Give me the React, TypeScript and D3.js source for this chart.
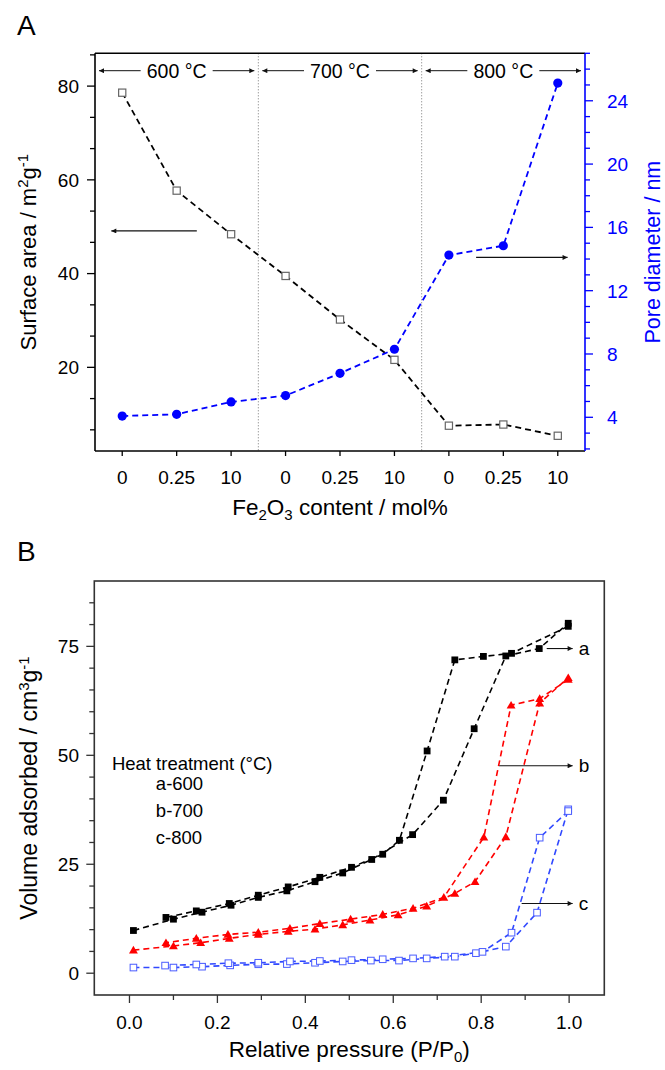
import React from 'react';
import * as d3 from 'd3';

const FONT = '"Liberation Sans", Arial, Helvetica, sans-serif';

// ---------- Panel A data ----------
const catLabels = ['0', '0.25', '10', '0', '0.25', '10', '0', '0.25', '10'];
const tempGroups = ['600 °C', '700 °C', '800 °C'];
const surfaceArea = [78.6, 57.7, 48.4, 39.5, 30.2, 21.6, 7.55, 7.8, 5.4];
const poreDiameter = [4.08, 4.19, 4.97, 5.37, 6.78, 8.3, 14.25, 14.84, 25.12];
const leftTicksA = [20, 40, 60, 80];
const rightTicksA = [4, 8, 12, 16, 20, 24];

// ---------- Panel B data (relative pressure, volume) ----------
const aAdsorption: [number, number][] = [
  [0.009, 9.8], [0.1, 12.4], [0.165, 14.0], [0.231, 15.6], [0.293, 17.4], [0.358, 18.9],
  [0.422, 21.0], [0.485, 23.0], [0.551, 26.1], [0.644, 31.8], [0.714, 39.7], [0.784, 56.1],
  [0.856, 72.8], [0.932, 74.5], [0.998, 80.3],
];
const aDesorption: [number, number][] = [
  [0.998, 79.6], [0.869, 73.4], [0.805, 72.7], [0.74, 71.9], [0.677, 51.0], [0.614, 30.5],
  [0.576, 27.3], [0.505, 24.3], [0.433, 22.0], [0.361, 19.8], [0.293, 17.9], [0.227, 16.0],
  [0.152, 14.3], [0.083, 12.8],
];
const bAdsorption: [number, number][] = [
  [0.009, 5.3], [0.1, 6.25], [0.162, 7.0], [0.227, 8.0], [0.293, 8.9], [0.361, 9.6],
  [0.422, 10.1], [0.485, 11.1], [0.547, 12.2], [0.611, 13.4], [0.676, 15.4], [0.74, 18.3],
  [0.786, 21.0], [0.856, 31.3], [0.933, 62.0], [0.998, 67.8],
];
const bDesorption: [number, number][] = [
  [0.998, 67.4], [0.933, 63.0], [0.868, 61.5], [0.806, 31.2], [0.715, 17.4], [0.645, 14.9],
  [0.576, 13.5], [0.503, 12.4], [0.433, 11.4], [0.365, 10.3], [0.293, 9.4], [0.224, 8.9],
  [0.152, 8.0], [0.083, 7.0],
];
const cAdsorption: [number, number][] = [
  [0.009, 1.3], [0.1, 1.3], [0.165, 1.5], [0.229, 1.8], [0.293, 2.05], [0.358, 2.1],
  [0.422, 2.4], [0.485, 2.7], [0.549, 2.9], [0.613, 2.9], [0.676, 3.4], [0.74, 3.8],
  [0.788, 4.6], [0.856, 6.1], [0.927, 13.9], [0.998, 37.6],
];
const cDesorption: [number, number][] = [
  [0.998, 37.2], [0.933, 31.1], [0.869, 9.3], [0.803, 4.9], [0.717, 3.8], [0.645, 3.4],
  [0.576, 3.2], [0.505, 3.0], [0.433, 2.8], [0.365, 2.7], [0.293, 2.4], [0.225, 2.3],
  [0.152, 2.0], [0.081, 1.75],
];
const legendLinesB = ['a-600', 'b-700', 'c-800'];
const curveLabelsB = ['a', 'b', 'c'];
const curveArrowStartB = [0.949, 0.841, 0.892];
const curveArrowLevelB = [74.5, 47.6, 16.0];
const yTicksB = [0, 25, 50, 75];
const xTicksB = [0, 0.2, 0.4, 0.6, 0.8, 1.0];

const BLUE = '#0000ff';
const BLUE_B = '#3048ff';
const RED = '#ff0000';

export default function App() {
  // ---------- scales panel A ----------
  const xA = d3.scaleLinear().domain([-0.5, 8.5]).range([95, 585]);
  const yAL = d3.scaleLinear().domain([2.15, 87]).range([451, 53.3]);
  const yAR = d3.scaleLinear().domain([1.87, 27]).range([451, 53.3]);
  const [aTop, aBot] = yAL.range().slice().reverse();
  const aLeft = xA.range()[0];
  const aRight = xA.range()[1];

  const lineSA = d3.line<number>().x((_, i) => xA(i)).y((d) => yAL(d));
  const linePD = d3.line<number>().x((_, i) => xA(i)).y((d) => yAR(d));

  const leftMinorA = d3.range(1, 14).map((k) => (k * 20) / 3);
  const rightMinorA = d3.range(2, 28);

  // ---------- scales panel B ----------
  const xB = d3.scaleLinear().domain([-0.08, 1.08]).range([94.3, 604.3]);
  const yB = d3.scaleLinear().domain([-5, 90]).range([995, 581]);
  const bLeft = 94.3, bRight = 604.3, bTop = 581, bBot = 995;
  const lineB = d3.line<[number, number]>().x((d) => xB(d[0])).y((d) => yB(d[1]));
  const yMinorB = d3.range(5, 90, 5).filter((v) => v % 25 !== 0);
  const xMinorB = d3.range(1, 11, 2).map((k) => k / 10);
  const tri = d3.symbol().type(d3.symbolTriangle).size(34)();

  const seriesB = [
    { ads: aAdsorption, des: aDesorption, color: '#000', kind: 'sq' },
    { ads: bAdsorption, des: bDesorption, color: RED, kind: 'tri' },
    { ads: cAdsorption, des: cDesorption, color: BLUE_B, kind: 'open' },
  ];

  const marker = (kind: string, color: string, p: [number, number], key: string) => {
    const cx = xB(p[0]);
    const cy = yB(p[1]);
    if (kind === 'sq') return <rect key={key} x={cx - 3.4} y={cy - 3.4} width={6.8} height={6.8} fill={color} />;
    if (kind === 'tri') return <path key={key} d={tri as string} transform={`translate(${cx},${cy + 0.8})`} fill={color} />;
    return <rect key={key} x={cx - 3.3} y={cy - 3.3} width={6.6} height={6.6} fill="#fff" stroke="#4a5cff" strokeWidth={1} />;
  };

  const groupCenters = tempGroups.map((_, g) => (xA(3 * g - 0.5) + xA(3 * g + 2.5)) / 2);
  const arrowY = 70.7;

  return (
    <div style={{ position: 'absolute', left: 0, top: 0 }}>
      <svg width={665} height={1070} fontFamily={FONT} style={{ display: 'block' }}>
        <defs>
          <marker id="ah" viewBox="0 0 10 10" refX="10" refY="5" markerWidth="7" markerHeight="5"
            markerUnits="userSpaceOnUse" orient="auto">
            <path d="M0,0 L10,5 L0,10 z" fill="#111" />
          </marker>
        </defs>
        <rect width={665} height={1070} fill="#fff" />

        {/* ================= Panel A ================= */}
        <text x={17} y={35} fontSize={28}>A</text>

        {/* dotted separators */}
        {[2.5, 5.5].map((v) => (
          <line key={v} x1={xA(v)} x2={xA(v)} y1={aTop} y2={aBot} stroke="#777" strokeWidth={1} strokeDasharray="1,2" />
        ))}

        {/* temperature headers */}
        {tempGroups.map((t, g) => {
          const c = groupCenters[g];
          const s = xA(3 * g - 0.5);
          const e = xA(3 * g + 2.5);
          return (
            <g key={t}>
              <text x={c} y={arrowY} dy="0.36em" fontSize={19.5} textAnchor="middle">{t}</text>
              <line x1={c - 36} x2={s + 4} y1={arrowY} y2={arrowY} stroke="#111" strokeWidth={1} markerEnd="url(#ah)" />
              <line x1={c + 36} x2={e - 4} y1={arrowY} y2={arrowY} stroke="#111" strokeWidth={1} markerEnd="url(#ah)" />
            </g>
          );
        })}

        {/* in-plot arrows */}
        <line x1={xA(1.37)} x2={xA(-0.2)} y1={yAL(49.1)} y2={yAL(49.1)} stroke="#111" strokeWidth={1.2} markerEnd="url(#ah)" />
        <line x1={xA(6.5)} x2={xA(8.18)} y1={yAR(14.1)} y2={yAR(14.1)} stroke="#111" strokeWidth={1.2} markerEnd="url(#ah)" />

        {/* series */}
        <path d={lineSA(surfaceArea) as string} fill="none" stroke="#000" strokeWidth={1.8} strokeDasharray="6,4" />
        <path d={linePD(poreDiameter) as string} fill="none" stroke={BLUE} strokeWidth={1.8} strokeDasharray="6,4" />
        {surfaceArea.map((v, i) => (
          <rect key={'sa' + i} x={xA(i) - 3.6} y={yAL(v) - 3.6} width={7.2} height={7.2} fill="#fff" stroke="#666" strokeWidth={1.2} />
        ))}
        {poreDiameter.map((v, i) => (
          <circle key={'pd' + i} cx={xA(i)} cy={yAR(v)} r={4.6} fill={BLUE} />
        ))}

        {/* axes frame */}
        <line x1={aLeft} x2={aRight} y1={aTop} y2={aTop} stroke="#000" strokeWidth={1.6} />
        <line x1={aLeft} x2={aRight} y1={aBot} y2={aBot} stroke="#000" strokeWidth={1.6} />
        <line x1={aLeft} x2={aLeft} y1={aTop} y2={aBot} stroke="#000" strokeWidth={1.6} />
        <line x1={aRight} x2={aRight} y1={aTop} y2={aBot} stroke={BLUE} strokeWidth={1.6} />

        {/* left ticks */}
        {leftMinorA.map((v) => {
          const major = leftTicksA.includes(Math.round(v * 100) / 100);
          return <line key={'lm' + v} x1={aLeft} x2={aLeft - (major ? 8 : 5)} y1={yAL(v)} y2={yAL(v)} stroke="#000" strokeWidth={1.3} />;
        })}
        {leftTicksA.map((v) => (
          <text key={'lt' + v} x={79} y={yAL(v)} dy="0.36em" fontSize={19} textAnchor="end">{v}</text>
        ))}
        {/* right ticks */}
        {rightMinorA.map((v) => {
          const major = rightTicksA.includes(v);
          return <line key={'rm' + v} x1={aRight} x2={aRight + (major ? 8 : 5)} y1={yAR(v)} y2={yAR(v)} stroke={BLUE} strokeWidth={1.3} />;
        })}
        {rightTicksA.map((v) => (
          <text key={'rt' + v} x={607} y={yAR(v)} dy="0.36em" fontSize={19} fill={BLUE}>{v}</text>
        ))}
        {/* bottom ticks */}
        {catLabels.map((c, i) => (
          <g key={'xc' + i}>
            <line x1={xA(i)} x2={xA(i)} y1={aBot} y2={aBot + 5} stroke="#000" strokeWidth={1.3} />
            <text x={xA(i)} y={477.5} dy="0.36em" fontSize={19} textAnchor="middle">{c}</text>
          </g>
        ))}

        {/* titles A */}
        <text x={(aLeft + aRight) / 2} y={515} fontSize={22.5} textAnchor="middle">
          Fe<tspan dy={5} fontSize={15}>2</tspan><tspan dy={-5}>O</tspan><tspan dy={5} fontSize={15}>3</tspan><tspan dy={-5}> content / mol%</tspan>
        </text>
        <text transform={`translate(36,${(aTop + aBot) / 2}) rotate(-90)`} fontSize={22} textAnchor="middle">
          Surface area / m<tspan dy={-8} fontSize={15}>2</tspan><tspan dy={8}>g</tspan><tspan dy={-8} fontSize={15}>-1</tspan>
        </text>
        <text transform={`translate(660,${(aTop + aBot) / 2}) rotate(-90)`} fontSize={21.5} textAnchor="middle" fill={BLUE}>
          Pore diameter / nm
        </text>

        {/* ================= Panel B ================= */}
        <text x={17} y={561} fontSize={28}>B</text>

        {seriesB.map((s, k) => (
          <g key={'sb' + k}>
            <path d={lineB(s.ads) as string} fill="none" stroke={s.color} strokeWidth={1.6} strokeDasharray="6,4" />
            <path d={lineB(s.des) as string} fill="none" stroke={s.color} strokeWidth={1.6} strokeDasharray="6,4" />
          </g>
        ))}
        {seriesB.map((s, k) => (
          <g key={'mb' + k}>
            {s.ads.map((p, i) => marker(s.kind, s.color, p, 'a' + k + '-' + i))}
            {s.des.map((p, i) => marker(s.kind, s.color, p, 'd' + k + '-' + i))}
          </g>
        ))}

        {/* curve arrows and labels */}
        {curveLabelsB.map((l, k) => (
          <g key={'cl' + l}>
            <line x1={xB(curveArrowStartB[k])} x2={xB(1.008)} y1={yB(curveArrowLevelB[k])} y2={yB(curveArrowLevelB[k])}
              stroke="#111" strokeWidth={1.1} markerEnd="url(#ah)" />
            <text x={xB(1.008) + 6} y={yB(curveArrowLevelB[k])} dy="0.32em" fontSize={19}>{l}</text>
          </g>
        ))}

        {/* legend text */}
        <text x={xB(-0.04)} y={yB(46.6)} fontSize={18.5}>Heat treatment (°C)</text>
        {legendLinesB.map((t, i) => (
          <text key={t} x={xB(0.06)} y={yB(42.0 - i * 6.15)} fontSize={18.5}>{t}</text>
        ))}

        {/* frame */}
        <rect x={bLeft} y={bTop} width={bRight - bLeft} height={bBot - bTop} fill="none" stroke="#333" strokeWidth={1.6} />
        {yMinorB.map((v) => (
          <line key={'ym' + v} x1={bLeft} x2={bLeft - 5} y1={yB(v)} y2={yB(v)} stroke="#333" strokeWidth={1.3} />
        ))}
        {yTicksB.map((v) => (
          <g key={'yt' + v}>
            <line x1={bLeft} x2={bLeft - 8} y1={yB(v)} y2={yB(v)} stroke="#333" strokeWidth={1.3} />
            <text x={79} y={yB(v)} dy="0.36em" fontSize={19} textAnchor="end">{v}</text>
          </g>
        ))}
        {xMinorB.map((v) => (
          <line key={'xm' + v} x1={xB(v)} x2={xB(v)} y1={bBot} y2={bBot + 5} stroke="#333" strokeWidth={1.3} />
        ))}
        {xTicksB.map((v) => (
          <g key={'xt' + v}>
            <line x1={xB(v)} x2={xB(v)} y1={bBot} y2={bBot + 8} stroke="#333" strokeWidth={1.3} />
            <text x={xB(v)} y={1022} dy="0.36em" fontSize={19} textAnchor="middle">{d3.format('.1f')(v)}</text>
          </g>
        ))}

        <text x={(bLeft + bRight) / 2} y={1056.5} fontSize={22.5} textAnchor="middle">
          Relative pressure (P/P<tspan dy={5} fontSize={15}>0</tspan><tspan dy={-5}>)</tspan>
        </text>
        <text transform={`translate(37,${(bTop + bBot) / 2}) rotate(-90)`} fontSize={23} textAnchor="middle">
          Volume adsorbed / cm<tspan dy={-8} fontSize={15}>3</tspan><tspan dy={8}>g</tspan><tspan dy={-8} fontSize={15}>-1</tspan>
        </text>
      </svg>
    </div>
  );
}
